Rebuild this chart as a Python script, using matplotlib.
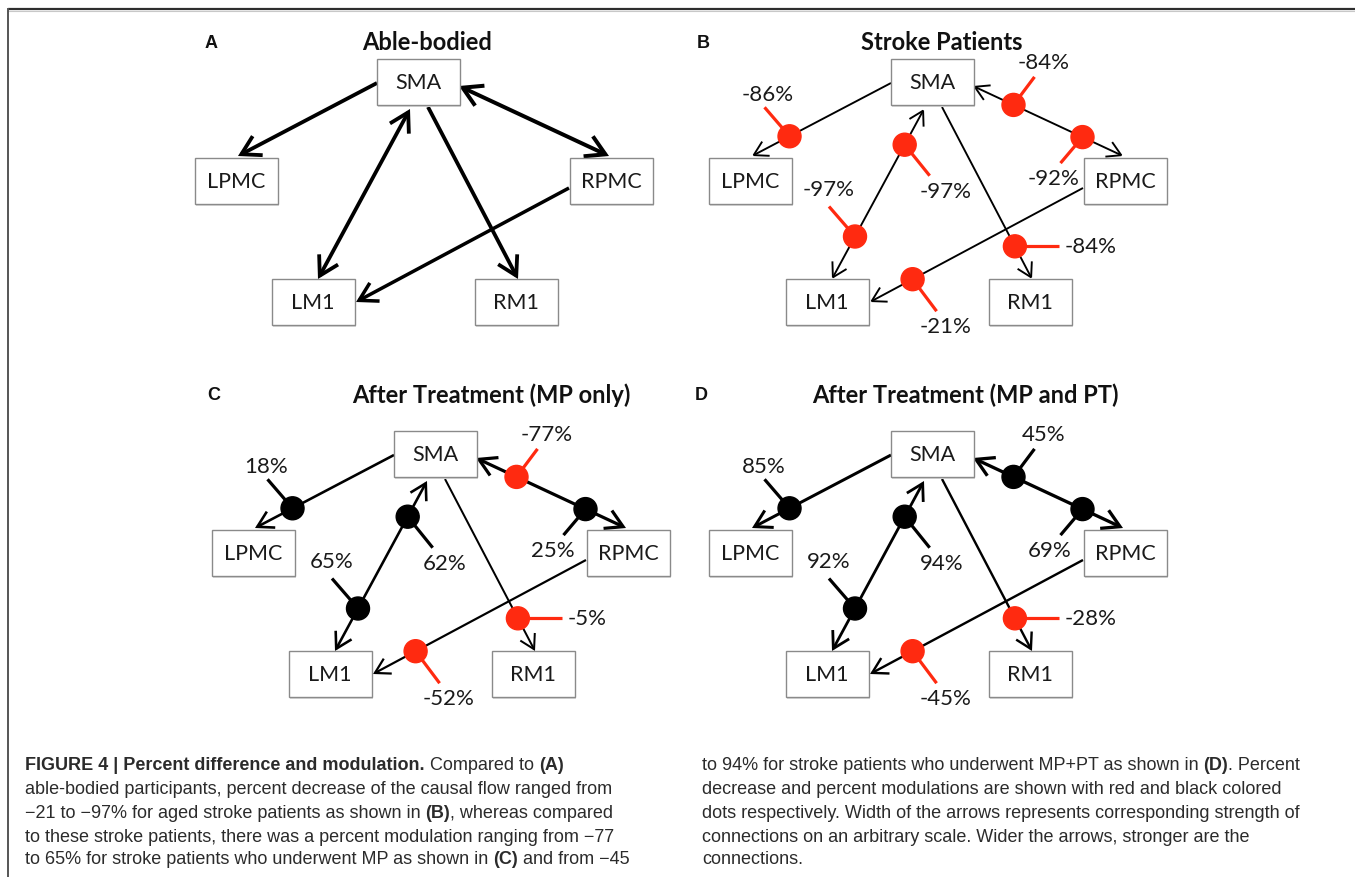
import matplotlib
matplotlib.use("Agg")
import numpy as np
import matplotlib.pyplot as plt
from matplotlib.patches import FancyArrowPatch, Rectangle, Circle

W, H = 1355, 877
RED = "#ff2a10"
INK = "#1a1a1a"

# nodes, centres relative to SMA (pixels)
node_names = ["SMA", "LPMC", "RPMC", "LM1", "RM1"]
node_dx = [0, -182, 193, -105, 98]
node_dy = [0, 99, 99, 220, 220]
BOX_W, BOX_H = 83, 46

# edges: (from node, anchor offset), (to node, anchor offset), heads at both ends?
edge_from = [("SMA", (-41, 1)), ("SMA", (41, 4)), ("LM1", (5, -23)), ("SMA", (10, 25)), ("RPMC", (-42, 7))]
edge_to = [("LPMC", (2, -25)), ("RPMC", (-2, -25)), ("SMA", (-8, 27)), ("RM1", (2, -23)), ("LM1", (43, 0))]
edge_both = [False, True, True, False, False]

# connection strength (arrow width, arbitrary scale) per panel
strength_A = [3.8, 4.0, 3.8, 3.8, 3.5]
strength_B = [1.9, 1.9, 1.9, 1.9, 1.9]
strength_C = [2.6, 3.2, 2.6, 2.0, 2.2]
strength_D = [3.0, 3.3, 2.8, 2.4, 2.4]

# dot slots: edge index and fraction along the edge
slot_edge = [0, 1, 1, 2, 2, 3, 4]
slot_t = [0.73, 0.27, 0.73, 0.79, 0.25, 0.81, 0.80]

# percent values per panel, in slot order
pct_B = [-86, -84, -92, -97, -97, -84, -21]
pct_C = [18, -77, 25, 62, 65, -5, -52]
pct_D = [85, 45, 69, 94, 92, -28, -45]

# stub vector, label offset from dot, label alignment
slot_stub = [(-25, -29), (21, -28), (-22, 26), (25, 31), (-26, -30), (44, 0), (24, 32)]
slot_lab = [(-48, -41), (30, -42), (-55, 42), (15, 47), (-26, -46), (50, 1), (33, 48)]
slot_ha = ["left", "center", "left", "left", "center", "left", "center"]

panel_letters = ["A", "B", "C", "D"]
panel_titles = ["Able-bodied", "Stroke Patients", "After Treatment (MP only)", "After Treatment (MP and PT)"]
panel_origin = [(418, 82), (932, 82), (435, 454), (932, 454)]
letter_pos = [(205, 43), (697, 43), (207, 395), (695, 395)]
title_pos = [(427, 43), (942, 43), (491, 395), (965, 395)]
panel_strength = [strength_A, strength_B, strength_C, strength_D]
panel_pct = [None, pct_B, pct_C, pct_D]

caption_left = [
    [("FIGURE 4 | Percent difference and modulation.", True), (" Compared to ", False), ("(A)", True)],
    [("able-bodied participants, percent decrease of the causal flow ranged from", False)],
    [("\u221221 to \u221297% for aged stroke patients as shown in ", False), ("(B)", True), (", whereas compared", False)],
    [("to these stroke patients, there was a percent modulation ranging from \u221277", False)],
    [("to 65% for stroke patients who underwent MP as shown in ", False), ("(C)", True), (" and from \u221245", False)],
]
caption_right = [
    [("to 94% for stroke patients who underwent MP+PT as shown in ", False), ("(D)", True), (". Percent", False)],
    [("decrease and percent modulations are shown with red and black colored", False)],
    [("dots respectively. Width of the arrows represents corresponding strength of", False)],
    [("connections on an arbitrary scale. Wider the arrows, stronger are the", False)],
    [("connections.", False)],
]
caption_y = [766, 789, 813, 837, 860]

fig = plt.figure(figsize=(W / 100, H / 100), dpi=100)
ax = fig.add_axes([0, 0, 1, 1])
ax.set_xlim(0, W)
ax.set_ylim(H, 0)
ax.axis("off")

# frame
ax.plot([8, W], [8.5, 8.5], color="#2e2e2e", lw=1.6, solid_capstyle="butt")
ax.plot([8, W], [10.5, 10.5], color="#c8c8c8", lw=0.8)
ax.plot([8, 8], [8.5, H], color="#555555", lw=1.4)


def node_xy(name, ox, oy):
    i = node_names.index(name)
    return ox + node_dx[i], oy + node_dy[i]


for p in range(4):
    ox, oy = panel_origin[p]
    ax.text(*letter_pos[p], panel_letters[p], fontsize=13, fontweight="bold",
            family="Liberation Sans", ha="left", va="center", color="#111111")
    ax.text(*title_pos[p], panel_titles[p], fontsize=17, fontweight="bold",
            family="Lato", ha="center", va="center", color="#111111")

    # edges
    pts = []
    for e in range(5):
        fx, fy = node_xy(edge_from[e][0], ox, oy)
        tx, ty = node_xy(edge_to[e][0], ox, oy)
        a = (fx + edge_from[e][1][0], fy + edge_from[e][1][1])
        b = (tx + edge_to[e][1][0], ty + edge_to[e][1][1])
        pts.append((a, b))
        lw_px = panel_strength[p][e]
        style = "<->" if edge_both[e] else "->"
        ms = 12 + 3.2 * lw_px
        arr = FancyArrowPatch(a, b, arrowstyle=f"{style},head_length=0.55,head_width=0.32",
                              mutation_scale=ms, lw=lw_px * 0.72, color="black",
                              shrinkA=0, shrinkB=0, joinstyle="miter", capstyle="butt", zorder=2)
        ax.add_patch(arr)

    # boxes
    for n in node_names:
        cx, cy = node_xy(n, ox, oy)
        ax.add_patch(Rectangle((cx - BOX_W / 2 + 1.5, cy - BOX_H / 2 + 1.5), BOX_W, BOX_H,
                               facecolor="#d9d9d9", edgecolor="none", zorder=3))
        ax.add_patch(Rectangle((cx - BOX_W / 2, cy - BOX_H / 2), BOX_W, BOX_H,
                               facecolor="white", edgecolor="#8a8a8a", lw=1.0, zorder=4))
        ax.text(cx, cy + 1, n, fontsize=15.5, family="Lato", ha="center", va="center",
                color=INK, zorder=5)

    # percent dots
    if panel_pct[p] is None:
        continue
    for s, val in enumerate(panel_pct[p]):
        (ax_, ay_), (bx_, by_) = pts[slot_edge[s]]
        t = slot_t[s]
        dx = ax_ + t * (bx_ - ax_)
        dy = ay_ + t * (by_ - ay_)
        col = RED if val < 0 else "black"
        sx, sy = slot_stub[s]
        ax.plot([dx, dx + sx], [dy, dy + sy], color=col, lw=2.3, solid_capstyle="butt", zorder=6)
        ax.add_patch(Circle((dx, dy), 11.5, color=col, zorder=7))
        lx, ly = slot_lab[s]
        ax.text(dx + lx, dy + ly, f"{val}%", fontsize=16, family="Lato", ha=slot_ha[s],
                va="center", color=INK, zorder=8)

# caption with inline bold parts
renderer = fig.canvas.get_renderer()


def rich_line(x, y, parts):
    for txt, bold in parts:
        t = ax.text(x, y, txt, fontsize=13, fontweight="bold" if bold else "normal",
                    family="Liberation Sans", color="#2b2b2b", ha="left", va="center")
        x += t.get_window_extent(renderer=renderer).width


for y, parts in zip(caption_y, caption_left):
    rich_line(25, y, parts)
for y, parts in zip(caption_y, caption_right):
    rich_line(702, y, parts)

fig.savefig("out.png", dpi=100)
